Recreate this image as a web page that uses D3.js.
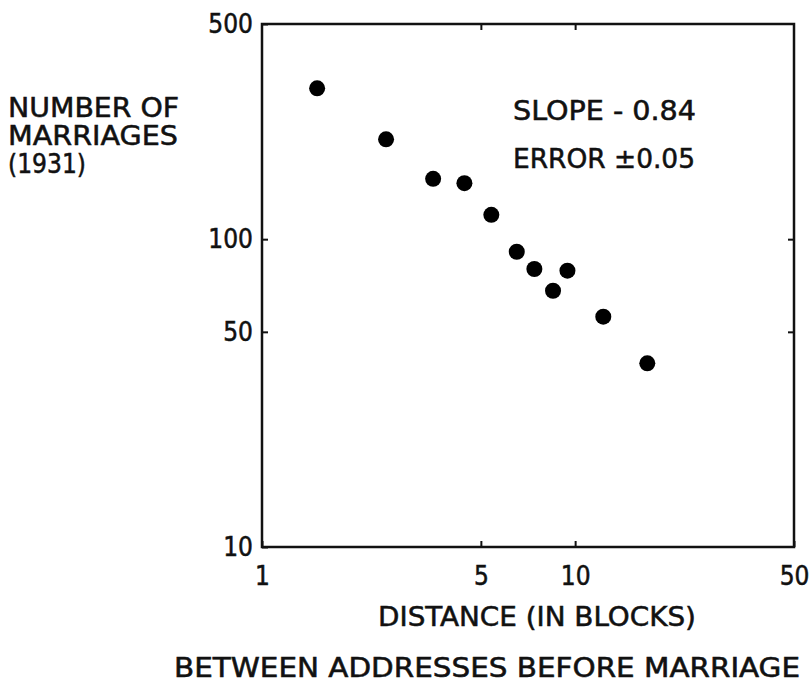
<!DOCTYPE html>
<html>
<head>
<meta charset="utf-8">
<script src="https://cdn.jsdelivr.net/npm/d3@7"></script>
<style>
  body { margin: 0; background: #fff; }
  svg text { font-family: "DejaVu Sans Condensed", "Liberation Sans Narrow", "DejaVu Sans", sans-serif; fill: #111; stroke: #111; stroke-width: 0.5px; }
</style>
</head>
<body>
<svg id="chart" width="809" height="683"></svg>
<script>
// distance between addresses (blocks) vs. number of marriages (1931)
var distance  = [1.50, 2.49, 3.52, 4.43, 5.40, 6.51, 7.41, 8.50, 9.45, 12.3, 17.0];
var marriages = [309, 211, 157, 152, 120, 91, 80, 68, 79, 56, 39.5];

var xTicks = [1, 5, 10, 50],
    yTicks = [10, 50, 100, 500],
    innerX = [5, 10],
    innerY = [50, 100];

var yTitle = ["NUMBER OF", "MARRIAGES", "(1931)"];
var notes = ["SLOPE  -  0.84", "ERROR \u00b10.05"];

var svg = d3.select("#chart");

var plotLeft = 262, plotRight = 794, plotTop = 24, plotBottom = 547;

var x = d3.scaleLog().domain([1, 50]).range([plotLeft, plotRight]);
var y = d3.scaleLog().domain([10, 500]).range([plotBottom, plotTop]);

// Axes, ticks pointing inward
svg.append("g")
  .attr("transform", "translate(0," + plotBottom + ")")
  .call(d3.axisBottom(x).tickValues(xTicks).tickFormat(d3.format("d"))
    .tickSize(-6).tickPadding(20));

svg.append("g")
  .attr("transform", "translate(0," + plotTop + ")")
  .call(d3.axisTop(x).tickValues(innerX).tickFormat("").tickSize(-6));

svg.append("g")
  .attr("transform", "translate(" + plotLeft + ",0)")
  .call(d3.axisLeft(y).tickValues(yTicks).tickFormat(d3.format("d"))
    .tickSize(-6).tickPadding(9));

svg.append("g")
  .attr("transform", "translate(" + plotRight + ",0)")
  .call(d3.axisRight(y).tickValues(innerY).tickFormat("").tickSize(-6));

svg.selectAll(".domain").remove();
svg.selectAll(".tick line").attr("stroke", "#111").attr("stroke-width", 2);
svg.selectAll(".tick text").style("font-size", "26px");

// frame
svg.append("rect")
  .attr("x", plotLeft).attr("y", plotTop)
  .attr("width", plotRight - plotLeft).attr("height", plotBottom - plotTop)
  .attr("fill", "none").attr("stroke", "#111").attr("stroke-width", 2.5);

// points
svg.append("g").selectAll("circle")
  .data(distance)
  .join("circle")
    .attr("cx", function(d){ return x(d); })
    .attr("cy", function(d, i){ return y(marriages[i]); })
    .attr("r", 8)
    .attr("fill", "#000");

// y title
svg.append("g").selectAll("text")
  .data(yTitle)
  .join("text")
    .attr("x", 8)
    .attr("y", function(d, i){ return 117 + i * 28; })
    .attr("textLength", function(d, i){ return [171, 170, 78][i]; })
    .attr("lengthAdjust", "spacingAndGlyphs")
    .style("font-size", "27px")
    .text(function(d){ return d; });

// slope note
svg.append("g").selectAll("text")
  .data(notes)
  .join("text")
    .attr("x", 513)
    .attr("y", function(d, i){ return 120 + i * 48; })
    .attr("textLength", function(d, i){ return i ? 182 : 183; })
    .attr("lengthAdjust", "spacingAndGlyphs")
    .style("font-size", "27px")
    .text(function(d){ return d; });

// x titles
svg.append("text")
  .attr("x", 378).attr("y", 626)
  .attr("textLength", 318).attr("lengthAdjust", "spacingAndGlyphs")
  .style("font-size", "27px")
  .text("DISTANCE  (IN BLOCKS)");

svg.append("text")
  .attr("x", 174).attr("y", 677)
  .attr("textLength", 626).attr("lengthAdjust", "spacingAndGlyphs")
  .style("font-size", "26px")
  .text("BETWEEN  ADDRESSES  BEFORE  MARRIAGE");
</script>
</body>
</html>
